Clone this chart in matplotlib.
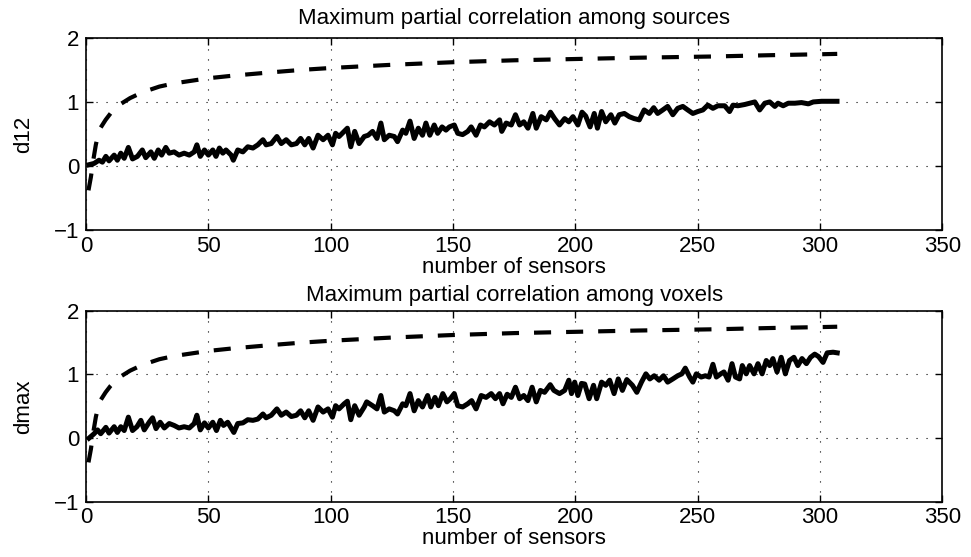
import matplotlib
matplotlib.use("Agg")
import matplotlib.pyplot as plt

plt.rcParams['font.family'] = ['Liberation Sans', 'DejaVu Sans']

# dashed bound curve (same in both panels)
bound_x = [1, 2, 3, 4, 5, 6, 8, 10, 13, 18, 23, 30, 36, 43, 50, 60, 75, 88,
           100, 125, 150, 175, 200, 225, 257, 280, 301, 307]
bound_y = [-0.38, -0.17, 0.1, 0.33, 0.5, 0.6, 0.72, 0.82, 0.94, 1.06, 1.15,
           1.24, 1.29, 1.33, 1.37, 1.41, 1.46, 1.50, 1.53, 1.58, 1.62, 1.65,
           1.67, 1.69, 1.71, 1.73, 1.745, 1.75]

# top panel: maximum partial correlation among sources
src_x = [1.2, 3.3, 5.3, 6.7, 8.1, 9.4, 11.5, 12.8, 14.2, 15.6, 17.3, 19, 21,
         23, 24.4, 26.5, 27.9, 29.5, 30.9, 32.6, 34, 36, 38, 40.1, 42.2, 44.2,
         45.3, 46.7, 48.4, 50, 51.8, 53.1, 54.5, 55.9, 57.2, 59.3, 60.2, 62,
         64.1, 66.1, 68.2, 70.2, 72.3, 73.6, 75.7, 78, 79.8, 81.8, 83.9, 86,
         87.7, 89.4, 91, 92.8, 94.8, 96.9, 98.9, 100.7, 102, 103.4, 105.5,
         106.8, 108.2, 109.8, 111.6, 113.7, 115.3, 117.1, 118.9, 120.5, 121.9,
         123.9, 126, 127.3, 129.4, 130.7, 132.4, 134.1, 135.8, 137.5, 138.9,
         140.5, 142.3, 143.7, 145.5, 147.1, 148.5, 150.5, 151.9, 153.9, 156,
         157.4, 159.4, 161.2, 162.8, 164.9, 166.9, 169, 169.9, 171.7, 173.8,
         175.5, 177.2, 178.9, 180.6, 182.6, 184, 186, 188.1, 189.8, 191.5,
         193.5, 195.6, 197.3, 199, 201, 202.7, 204.2, 206, 207.7, 209, 210.7,
         212.4, 214.5, 216.1, 217.9, 220, 222, 224, 226.1, 228.1, 230.2, 232,
         233.6, 235.7, 237.7, 239.8, 241.8, 243.9, 245.9, 248, 250, 252.1,
         254.1, 256.2, 258.2, 261, 263, 264.4, 266.4, 269.2, 271.2, 273.3,
         275.3, 277.4, 279.4, 281.5, 282.8, 284.9, 287, 289.7, 292.4, 295.2,
         297.2, 300.6, 304.8, 306.9]
src_y = [0.02, 0.04, 0.09, 0.06, 0.15, 0.08, 0.17, 0.09, 0.2, 0.12, 0.29, 0.11,
         0.15, 0.25, 0.13, 0.22, 0.12, 0.25, 0.17, 0.29, 0.2, 0.22, 0.17, 0.2,
         0.17, 0.22, 0.33, 0.15, 0.25, 0.17, 0.25, 0.15, 0.28, 0.2, 0.25, 0.17,
         0.09, 0.25, 0.22, 0.3, 0.28, 0.33, 0.41, 0.33, 0.35, 0.46, 0.35, 0.41,
         0.33, 0.35, 0.43, 0.33, 0.43, 0.28, 0.48, 0.41, 0.48, 0.33, 0.51,
         0.46, 0.54, 0.59, 0.3, 0.54, 0.35, 0.46, 0.48, 0.54, 0.43, 0.67, 0.41,
         0.48, 0.46, 0.38, 0.56, 0.51, 0.70, 0.43, 0.59, 0.48, 0.67, 0.48,
         0.64, 0.51, 0.61, 0.56, 0.61, 0.64, 0.51, 0.49, 0.54, 0.61, 0.48,
         0.64, 0.61, 0.69, 0.64, 0.72, 0.54, 0.67, 0.64, 0.80, 0.64, 0.69,
         0.59, 0.82, 0.59, 0.77, 0.72, 0.84, 0.74, 0.64, 0.74, 0.69, 0.77,
         0.64, 0.84, 0.78, 0.61, 0.82, 0.59, 0.85, 0.69, 0.80, 0.67, 0.80,
         0.82, 0.77, 0.74, 0.72, 0.875, 0.82, 0.91, 0.82, 0.875, 0.93, 0.80,
         0.90, 0.93, 0.875, 0.82, 0.85, 0.875, 0.95, 0.90, 0.94, 0.94, 0.85,
         0.95, 0.94, 0.96, 0.98, 1.0, 0.875, 0.98, 1.0, 0.93, 0.98, 0.94, 0.98,
         0.98, 0.99, 0.97, 1.0, 1.01, 1.01, 1.01]

# bottom panel: maximum partial correlation among voxels
vox_x = [1.2, 3.3, 4.7, 6, 8.1, 9.4, 11.5, 12.8, 14.2, 15.6, 17.3, 19, 20.8,
         22.4, 23.8, 25.8, 27.2, 28.6, 30.3, 32, 34, 36, 38, 40.1, 42.2, 44.2,
         45.3, 46.7, 48.4, 50, 51.8, 53.3, 54.9, 56.2, 57.9, 59.3, 60.4, 62,
         64.1, 66.1, 68.2, 70.2, 72.3, 73.6, 75.7, 78, 79.8, 81.8, 83.9, 86,
         87.7, 89.4, 91, 92.8, 94.8, 96.9, 98.9, 100.7, 102, 103.4, 105.5,
         106.8, 108.2, 109.8, 111.6, 113.7, 114.7, 117.1, 118.9, 120.5, 121.9,
         123.9, 126, 127.3, 129.4, 130.7, 132.4, 134.1, 135.8, 137.5, 139.6,
         140.9, 142.6, 144, 145.8, 147.5, 148.9, 150.5, 151.9, 153.9, 156,
         157.6, 159.4, 161.5, 163.5, 165.6, 167.3, 169, 170.4, 172.1, 173.8,
         175.5, 177.2, 178.9, 180.6, 182.3, 184, 185.7, 187.4, 189.7, 191.2,
         193.5, 195.6, 197.3, 198.4, 199.7, 201, 202.5, 203.8, 205.6, 207.4,
         208.7, 210.7, 212.4, 214, 215.8, 217.5, 219.2, 221, 223.3, 225.1, 227,
         228.8, 230.4, 232.2, 234.2, 236, 237.7, 239.8, 241.8, 243.5, 244.9,
         246.7, 248, 249.4, 251.4, 253.1, 254.6, 256.2, 257.6, 259.4, 260.7,
         262.4, 264, 265.4, 267.1, 268.2, 269.8, 271.2, 273, 274.6, 276.3, 278,
         279.4, 280.7, 282.4, 284.1, 285.8, 287.5, 289.3, 290.9, 292.6, 294.4,
         296.1, 297.8, 299.4, 301.2, 302.9, 305.3, 307]
vox_y = [0.0, 0.07, 0.13, 0.07, 0.17, 0.08, 0.18, 0.09, 0.18, 0.12, 0.33, 0.12,
         0.18, 0.28, 0.13, 0.25, 0.32, 0.15, 0.25, 0.16, 0.23, 0.2, 0.16, 0.18,
         0.16, 0.23, 0.36, 0.13, 0.24, 0.16, 0.25, 0.12, 0.28, 0.2, 0.25, 0.16,
         0.09, 0.23, 0.24, 0.29, 0.28, 0.30, 0.38, 0.32, 0.36, 0.46, 0.36,
         0.41, 0.34, 0.36, 0.43, 0.32, 0.43, 0.28, 0.49, 0.41, 0.46, 0.33,
         0.51, 0.46, 0.54, 0.58, 0.29, 0.51, 0.36, 0.49, 0.57, 0.51, 0.46,
         0.67, 0.41, 0.46, 0.43, 0.38, 0.54, 0.51, 0.70, 0.43, 0.59, 0.49,
         0.67, 0.49, 0.64, 0.51, 0.70, 0.57, 0.62, 0.70, 0.51, 0.49, 0.54,
         0.59, 0.46, 0.67, 0.64, 0.70, 0.62, 0.70, 0.54, 0.69, 0.64, 0.80,
         0.62, 0.67, 0.59, 0.80, 0.57, 0.75, 0.72, 0.84, 0.75, 0.70, 0.75,
         0.91, 0.70, 0.88, 0.67, 0.86, 0.85, 0.62, 0.83, 0.62, 0.88, 0.83,
         0.91, 0.70, 0.93, 0.75, 0.92, 0.83, 0.72, 0.88, 1.01, 0.93, 0.98,
         0.91, 0.98, 0.88, 0.93, 0.98, 1.01, 1.10, 0.96, 0.88, 1.01, 0.96,
         0.98, 0.96, 1.16, 0.96, 1.01, 1.04, 0.91, 1.17, 0.96, 0.93, 1.14,
         1.01, 1.14, 1.01, 1.17, 1.01, 1.22, 1.14, 1.25, 1.04, 1.27, 1.01,
         1.22, 1.27, 1.14, 1.25, 1.17, 1.27, 1.32, 1.28, 1.19, 1.34, 1.35,
         1.34]

panels = [
    (src_x, src_y, 'd12', 'Maximum partial correlation among sources', 10),
    (vox_x, vox_y, 'dmax', 'Maximum partial correlation among voxels', 7),
]

fig = plt.figure(figsize=(9.71, 5.57), dpi=100)
boxes = [[0.0886, 0.587, 0.882, 0.345], [0.0886, 0.099, 0.882, 0.343]]

for box, (xs, ys, ylab, title, tpad) in zip(boxes, panels):
    ax = fig.add_axes(box)
    ax.plot(bound_x, bound_y, color='black', lw=3.0,
            linestyle=(0, (4.1, 3.6)))
    ax.plot(xs, ys, color='black', lw=3.6, solid_joinstyle='round')
    ax.set_xlim(0, 350)
    ax.set_ylim(-1, 2)
    ax.set_xticks(range(0, 351, 50))
    ax.set_yticks([-1, 0, 1, 2])
    ax.grid(True, color='black', lw=0.8, linestyle=(0, (1, 8)))
    ax.tick_params(direction='in', top=True, right=True, length=5,
                   width=1, labelsize=16, pad=5)
    ax.tick_params(axis='x', pad=4)
    for s in ax.spines.values():
        s.set_linewidth(1.2)
    ax.set_xlabel('number of sensors', fontsize=16, labelpad=0)
    ax.set_ylabel(ylab, fontsize=16, labelpad=14)
    ax.set_title(title, fontsize=16, pad=tpad)

fig.savefig('out.png', dpi=100)
